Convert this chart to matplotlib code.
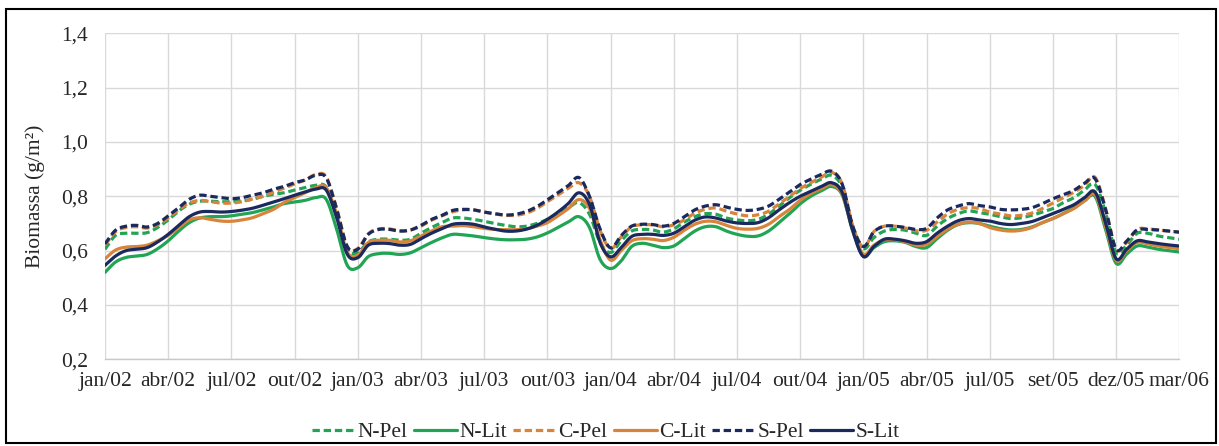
import numpy as np
import matplotlib
matplotlib.use("Agg")
import matplotlib.pyplot as plt
from matplotlib.patches import Rectangle
from matplotlib.ticker import FixedLocator, FuncFormatter

plt.rcParams["font.family"] = ["Liberation Serif", "DejaVu Serif"]

# Category labels along the time axis (one every six half-month steps)
tick_labels = ["jan/02", "abr/02", "jul/02", "out/02", "jan/03", "abr/03",
               "jul/03", "out/03", "jan/04", "abr/04", "jul/04", "out/04",
               "jan/05", "abr/05", "jul/05", "set/05", "dez/05", "mar/06"]
steps_per_tick = 6

# Biomass series (g/m2), half-month steps from jan/02 to mar/06
n_pel = [0.605, 0.656, 0.664, 0.664, 0.666, 0.685, 0.713, 0.746, 0.771, 0.782, 0.782, 0.780,
         0.780, 0.783, 0.789, 0.800, 0.807, 0.813, 0.823, 0.832, 0.840, 0.834, 0.728, 0.605,
         0.593, 0.632, 0.642, 0.642, 0.638, 0.642, 0.664, 0.685, 0.703, 0.720, 0.720, 0.715,
         0.708, 0.700, 0.693, 0.688, 0.690, 0.700, 0.715, 0.737, 0.758, 0.777, 0.734, 0.630,
         0.593, 0.636, 0.672, 0.678, 0.676, 0.668, 0.680, 0.705, 0.725, 0.736, 0.734, 0.720,
         0.713, 0.710, 0.715, 0.734, 0.764, 0.795, 0.822, 0.844, 0.863, 0.877, 0.832, 0.685,
         0.607, 0.648, 0.672, 0.678, 0.675, 0.664, 0.656, 0.690, 0.718, 0.736, 0.746, 0.740,
         0.734, 0.725, 0.718, 0.721, 0.730, 0.742, 0.755, 0.777, 0.795, 0.823, 0.844, 0.740,
         0.593, 0.620, 0.664, 0.664, 0.654, 0.648, 0.642]
n_lit = [0.520, 0.558, 0.575, 0.580, 0.586, 0.607, 0.636, 0.672, 0.703, 0.720, 0.725, 0.725,
         0.728, 0.734, 0.740, 0.750, 0.761, 0.773, 0.779, 0.785, 0.795, 0.789, 0.678, 0.546,
         0.537, 0.578, 0.589, 0.590, 0.586, 0.592, 0.611, 0.630, 0.647, 0.660, 0.658, 0.654,
         0.648, 0.643, 0.640, 0.640, 0.642, 0.650, 0.665, 0.685, 0.706, 0.725, 0.685, 0.568,
         0.534, 0.562, 0.615, 0.627, 0.620, 0.611, 0.617, 0.644, 0.672, 0.688, 0.688, 0.672,
         0.660, 0.653, 0.654, 0.672, 0.703, 0.736, 0.772, 0.800, 0.820, 0.836, 0.804, 0.672,
         0.580, 0.611, 0.633, 0.636, 0.630, 0.615, 0.611, 0.644, 0.675, 0.696, 0.703, 0.700,
         0.690, 0.681, 0.676, 0.678, 0.687, 0.703, 0.718, 0.737, 0.758, 0.783, 0.800, 0.678,
         0.553, 0.587, 0.617, 0.613, 0.605, 0.600, 0.595]
c_pel = [0.620, 0.670, 0.685, 0.688, 0.683, 0.695, 0.720, 0.750, 0.775, 0.785, 0.780, 0.775,
         0.775, 0.780, 0.790, 0.800, 0.815, 0.830, 0.845, 0.860, 0.880, 0.872, 0.755, 0.615,
         0.608, 0.662, 0.680, 0.680, 0.673, 0.676, 0.690, 0.712, 0.728, 0.743, 0.750, 0.750,
         0.742, 0.735, 0.730, 0.730, 0.738, 0.755, 0.780, 0.805, 0.830, 0.850, 0.800, 0.675,
         0.608, 0.650, 0.688, 0.695, 0.695, 0.688, 0.695, 0.713, 0.738, 0.752, 0.757, 0.745,
         0.735, 0.728, 0.732, 0.745, 0.772, 0.800, 0.828, 0.850, 0.870, 0.888, 0.845, 0.690,
         0.612, 0.670, 0.690, 0.690, 0.683, 0.673, 0.675, 0.705, 0.735, 0.752, 0.758, 0.755,
         0.742, 0.735, 0.728, 0.730, 0.738, 0.755, 0.775, 0.795, 0.815, 0.840, 0.870, 0.755,
         0.605, 0.630, 0.678, 0.680, 0.676, 0.672, 0.668]
c_lit = [0.570, 0.602, 0.613, 0.615, 0.620, 0.636, 0.656, 0.685, 0.713, 0.721, 0.715, 0.709,
         0.708, 0.713, 0.721, 0.736, 0.752, 0.777, 0.795, 0.813, 0.832, 0.832, 0.734, 0.595,
         0.583, 0.630, 0.638, 0.638, 0.632, 0.636, 0.654, 0.672, 0.688, 0.690, 0.692, 0.688,
         0.682, 0.678, 0.677, 0.677, 0.680, 0.690, 0.703, 0.728, 0.755, 0.788, 0.755, 0.640,
         0.565, 0.600, 0.636, 0.644, 0.642, 0.637, 0.649, 0.675, 0.697, 0.708, 0.706, 0.693,
         0.682, 0.679, 0.682, 0.697, 0.725, 0.752, 0.785, 0.810, 0.828, 0.843, 0.807, 0.678,
         0.587, 0.620, 0.640, 0.640, 0.632, 0.620, 0.623, 0.652, 0.679, 0.697, 0.705, 0.700,
         0.685, 0.676, 0.672, 0.675, 0.685, 0.703, 0.718, 0.736, 0.755, 0.783, 0.807, 0.690,
         0.564, 0.600, 0.630, 0.625, 0.617, 0.612, 0.607]
s_pel = [0.625, 0.675, 0.690, 0.693, 0.687, 0.700, 0.728, 0.758, 0.789, 0.804, 0.800, 0.795,
         0.791, 0.795, 0.804, 0.813, 0.826, 0.836, 0.850, 0.860, 0.877, 0.868, 0.752, 0.615,
         0.605, 0.660, 0.678, 0.678, 0.672, 0.676, 0.693, 0.715, 0.730, 0.748, 0.752, 0.750,
         0.742, 0.736, 0.731, 0.734, 0.744, 0.762, 0.787, 0.813, 0.840, 0.869, 0.800, 0.680,
         0.610, 0.655, 0.690, 0.697, 0.696, 0.690, 0.700, 0.725, 0.750, 0.764, 0.769, 0.760,
         0.752, 0.748, 0.752, 0.764, 0.789, 0.816, 0.843, 0.863, 0.880, 0.892, 0.844, 0.690,
         0.615, 0.669, 0.690, 0.690, 0.685, 0.678, 0.682, 0.720, 0.750, 0.764, 0.773, 0.766,
         0.761, 0.752, 0.750, 0.752, 0.758, 0.773, 0.791, 0.806, 0.822, 0.848, 0.865, 0.752,
         0.605, 0.635, 0.676, 0.678, 0.676, 0.672, 0.668]
s_lit = [0.546, 0.580, 0.600, 0.605, 0.611, 0.632, 0.660, 0.693, 0.725, 0.742, 0.744, 0.742,
         0.744, 0.749, 0.756, 0.767, 0.779, 0.791, 0.804, 0.816, 0.826, 0.823, 0.721, 0.587,
         0.574, 0.620, 0.627, 0.626, 0.620, 0.623, 0.644, 0.664, 0.681, 0.697, 0.700, 0.697,
         0.687, 0.679, 0.672, 0.672, 0.679, 0.693, 0.715, 0.742, 0.774, 0.813, 0.770, 0.630,
         0.577, 0.611, 0.652, 0.660, 0.660, 0.656, 0.664, 0.688, 0.712, 0.724, 0.720, 0.709,
         0.702, 0.700, 0.703, 0.721, 0.750, 0.777, 0.800, 0.818, 0.836, 0.850, 0.813, 0.672,
         0.578, 0.615, 0.642, 0.642, 0.636, 0.627, 0.633, 0.664, 0.690, 0.710, 0.718, 0.713,
         0.709, 0.700, 0.696, 0.700, 0.707, 0.721, 0.736, 0.752, 0.769, 0.795, 0.816, 0.703,
         0.570, 0.605, 0.636, 0.632, 0.626, 0.621, 0.617]

series = [("N-Pel", n_pel, "#22a455", "dashed"),
          ("N-Lit", n_lit, "#22a455", "solid"),
          ("C-Pel", c_pel, "#d8843a", "dashed"),
          ("C-Lit", c_lit, "#d8843a", "solid"),
          ("S-Pel", s_pel, "#1b2a5e", "dashed"),
          ("S-Lit", s_lit, "#1b2a5e", "solid")]


def smooth_line(x, y, sub=8):
    """Catmull-Rom curve through every data point (smoothed line style)."""
    x = np.asarray(x, float)
    y = np.asarray(y, float)
    px = np.concatenate([[2 * x[0] - x[1]], x, [2 * x[-1] - x[-2]]])
    py = np.concatenate([[2 * y[0] - y[1]], y, [2 * y[-1] - y[-2]]])
    u = np.linspace(0, 1, sub, endpoint=False)
    xs, ys = [], []
    for i in range(1, len(px) - 2):
        for p, out in ((px, xs), (py, ys)):
            p0, p1, p2, p3 = p[i - 1], p[i], p[i + 1], p[i + 2]
            out.append(0.5 * (2 * p1 + (-p0 + p2) * u
                              + (2 * p0 - 5 * p1 + 4 * p2 - p3) * u ** 2
                              + (-p0 + 3 * p1 - 3 * p2 + p3) * u ** 3))
    xs.append([x[-1]])
    ys.append([y[-1]])
    return np.concatenate(xs), np.concatenate(ys)


W, H = 1219, 446
FS = 15.5
TXT = "#262626"
fig = plt.figure(figsize=(W / 100, H / 100), dpi=100)
ax = fig.add_axes([105 / W, 1 - 359.3 / H, (1179.3 - 105) / W, (359.3 - 33.3) / H])

for name, vals, color, style in series:
    xs, ys = smooth_line(np.arange(len(vals)) / steps_per_tick, vals)
    if style == "dashed":
        ax.plot(xs, ys, color=color, lw=2.3, linestyle=(0, (2.3, 1.2)),
                label=name, dash_capstyle="butt")
    else:
        ax.plot(xs, ys, color=color, lw=2.3, label=name, solid_capstyle="round")

ax.set_xlim(0, len(tick_labels) - 1)
ax.set_ylim(0.2, 1.4)
ax.xaxis.set_major_locator(FixedLocator(range(len(tick_labels))))
ax.set_xticklabels(tick_labels)
ax.set_yticks(np.arange(0.2, 1.41, 0.2))
ax.yaxis.set_major_formatter(FuncFormatter(lambda v, p: f"{v:.1f}".replace(".", ",")))
ax.tick_params(axis="both", length=0, labelsize=FS, colors=TXT)
ax.tick_params(axis="x", pad=9)
ax.tick_params(axis="y", pad=12)
ax.grid(True, color="#d9d9d9", lw=1.0)
ax.set_axisbelow(True)
for side in ["top", "right", "left"]:
    ax.spines[side].set_visible(False)
ax.spines["bottom"].set_color("#c8c8c8")
ax.spines["bottom"].set_linewidth(1.0)

ax.set_ylabel("Biomassa (g/m²)", fontsize=FS, color=TXT, labelpad=12)

handles, labels = ax.get_legend_handles_labels()
fig.legend(handles, labels, loc="center", bbox_to_anchor=(0.497, 1 - 432 / H),
           ncol=6, frameon=False, fontsize=FS, handlelength=2.0,
           handletextpad=0.1, columnspacing=0.3, labelcolor=TXT)

fig.patches.append(Rectangle((6 / W, 1 - 443 / H), 1210 / W, 434 / H,
                             transform=fig.transFigure, fill=False,
                             edgecolor="black", lw=1.5))

fig.savefig("out.png", dpi=100)
